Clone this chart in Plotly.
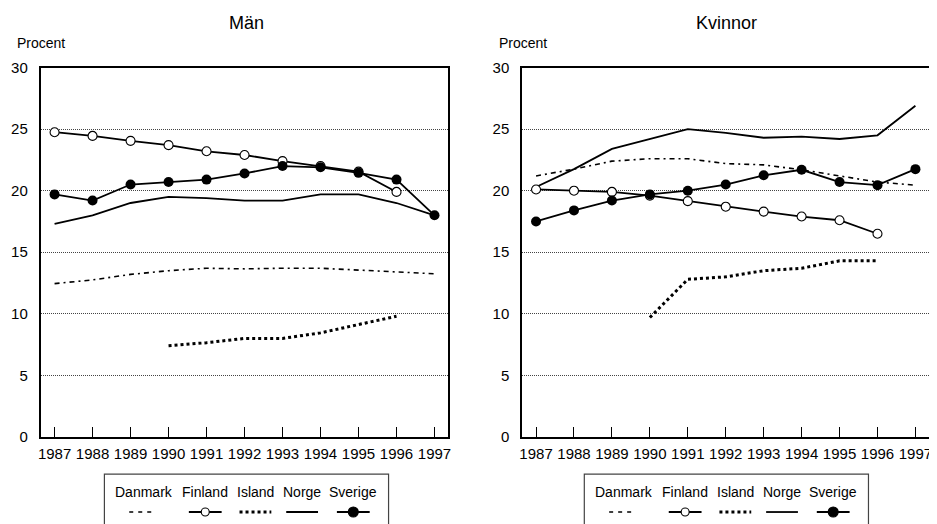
import plotly.graph_objects as go

W, H = 937, 524
# page placement compensation (figure shows up offset inside the window)
OFF_X, OFF_Y, EFF_H = 8, 16, 508

years = [1987, 1988, 1989, 1990, 1991, 1992, 1993, 1994, 1995, 1996, 1997]
countries = ["Danmark", "Finland", "Island", "Norge", "Sverige"]

# Män
man_danmark = [12.45, 12.75, 13.2, 13.5, 13.7, 13.65, 13.7, 13.7, 13.55, 13.4, 13.25]
man_finland = [24.75, 24.45, 24.05, 23.7, 23.2, 22.9, 22.4, 22.0, 21.55, 19.9, None]
man_island = [None, None, None, 7.4, 7.65, 8.0, 8.0, 8.45, 9.1, 9.8, None]
man_norge = [17.3, 18.0, 19.0, 19.5, 19.4, 19.2, 19.2, 19.7, 19.7, 19.0, 18.0]
man_sverige = [19.7, 19.2, 20.5, 20.7, 20.9, 21.4, 22.0, 21.9, 21.45, 20.9, 18.0]

# Kvinnor
kv_danmark = [21.2, 21.75, 22.4, 22.6, 22.6, 22.2, 22.1, 21.7, 21.2, 20.7, 20.45]
kv_finland = [20.1, 20.0, 19.9, 19.6, 19.15, 18.7, 18.3, 17.9, 17.6, 16.5, None]
kv_island = [None, None, None, 9.7, 12.8, 13.0, 13.5, 13.7, 14.3, 14.3, None]
kv_norge = [20.3, 21.75, 23.4, 24.2, 25.0, 24.7, 24.3, 24.4, 24.2, 24.5, 26.9]
kv_sverige = [17.5, 18.4, 19.2, 19.7, 20.0, 20.5, 21.25, 21.7, 20.7, 20.45, 21.75]

y_ticks = [0, 5, 10, 15, 20, 25, 30]
titles = ["Män", "Kvinnor"]
y_label = "Procent"

FONT = "Liberation Sans, Arial, Helvetica, sans-serif"

styles = {
    "Danmark": dict(line=dict(color="black", width=1.6, dash="5px,4px,2px,4px"), mode="lines"),
    "Finland": dict(line=dict(color="black", width=1.8), mode="lines+markers",
                    marker=dict(symbol="circle", size=9, color="white",
                                line=dict(color="black", width=1.1))),
    "Island": dict(line=dict(color="black", width=3, dash="3px,3px"), mode="lines"),
    "Norge": dict(line=dict(color="black", width=1.8), mode="lines"),
    "Sverige": dict(line=dict(color="black", width=1.8), mode="lines+markers",
                    marker=dict(symbol="circle", size=10, color="black")),
}
legend_dash = {"Danmark": "4px,5px"}
draw_order = ["Danmark", "Island", "Norge", "Finland", "Sverige"]

panels = [
    ("x", "y", dict(zip(countries, [man_danmark, man_finland, man_island, man_norge, man_sverige]))),
    ("x2", "y2", dict(zip(countries, [kv_danmark, kv_finland, kv_island, kv_norge, kv_sverige]))),
]

fig = go.Figure()
for xa, ya, series in panels:
    for name in draw_order:
        st = styles[name]
        fig.add_trace(go.Scatter(x=years, y=series[name], name=name, xaxis=xa, yaxis=ya,
                                 showlegend=False, connectgaps=False, **st))


def px_x(p):
    return (p - OFF_X) / W


def px_y(p):
    return 1 - (p - OFF_Y) / EFF_H


ax_common = dict(
    range=[1986.63, 1997.36], tickmode="array", tickvals=years, ticktext=[str(y) for y in years],
    ticks="inside", ticklen=10, tickwidth=1, tickcolor="black",
    showline=True, linecolor="black", linewidth=1.5, mirror=True,
    showgrid=False, zeroline=False, fixedrange=True,
    tickfont=dict(family=FONT, size=15, color="black"), ticklabelstandoff=2,
)
ay_common = dict(
    range=[0, 30], tickmode="array", tickvals=y_ticks,
    ticks="", showline=True, linecolor="black", linewidth=1.5, mirror=True,
    showgrid=True, gridcolor="#444444", gridwidth=1, griddash="1px,1px",
    zeroline=False, fixedrange=True,
    tickfont=dict(family=FONT, size=15, color="black"), ticklabelstandoff=8,
)

ydom = [px_y(436.7), px_y(66.7)]
fig.update_layout(
    width=W, height=H, margin=dict(l=0, r=0, t=0, b=0),
    paper_bgcolor="white", plot_bgcolor="white",
    font=dict(family=FONT, size=14, color="black"),
    xaxis=dict(domain=[px_x(37.7), px_x(448)], anchor="y", **ax_common),
    yaxis=dict(domain=ydom, anchor="x", **ay_common),
    xaxis2=dict(domain=[px_x(522.3), px_x(932.0)], anchor="y2", **ax_common),
    yaxis2=dict(domain=ydom, anchor="x2", **ay_common),
    showlegend=False,
)

annotations = []
shapes = []
for cx, t in zip([245, 728], titles):
    annotations.append(dict(x=px_x(cx), y=px_y(22.5), xref="paper", yref="paper", text=t,
                            showarrow=False, xanchor="center", yanchor="middle",
                            font=dict(family=FONT, size=18, color="black")))
for lx in [12, 497]:
    annotations.append(dict(x=px_x(lx), y=px_y(42), xref="paper", yref="paper", text=y_label,
                            showarrow=False, xanchor="left", yanchor="middle",
                            font=dict(family=FONT, size=14, color="black")))

# custom legends (label above its line sample)
text_cx = [142, 203, 254, 301, 352]
seg = [(127, 153), (187, 220), (238, 270), (285, 317), (336, 369)]
for off in [0, 483]:
    shapes.append(dict(type="rect", xref="paper", yref="paper",
                       x0=px_x(102 + off), x1=px_x(388 + off), y0=px_y(545), y1=px_y(474),
                       line=dict(color="#444444", width=1.2), fillcolor="white", layer="below"))
    for i, name in enumerate(countries):
        annotations.append(dict(x=px_x(text_cx[i] + off), y=px_y(492), xref="paper", yref="paper",
                                text=name, showarrow=False, xanchor="center", yanchor="middle",
                                font=dict(family=FONT, size=14, color="black")))
        st = styles[name]
        a, b = seg[i]
        shapes.append(dict(type="line", xref="paper", yref="paper",
                           x0=px_x(a + off), x1=px_x(b + off), y0=px_y(512), y1=px_y(512),
                           line=dict(color="black", width=st["line"]["width"],
                                     dash=legend_dash.get(name, st["line"].get("dash", "solid")))))
        if name in ("Finland", "Sverige"):
            cx = (a + b) / 2
            fill = "white" if name == "Finland" else "black"
            r = 4 if name == "Finland" else 5
            shapes.append(dict(type="circle", xref="paper", yref="paper",
                               xsizemode="pixel", ysizemode="pixel",
                               xanchor=px_x(cx + off), yanchor=px_y(512),
                               x0=-r, x1=r, y0=-r, y1=r,
                               fillcolor=fill, line=dict(color="black", width=1.1)))

fig.update_layout(annotations=annotations, shapes=shapes)
fig.write_html("out.html")
